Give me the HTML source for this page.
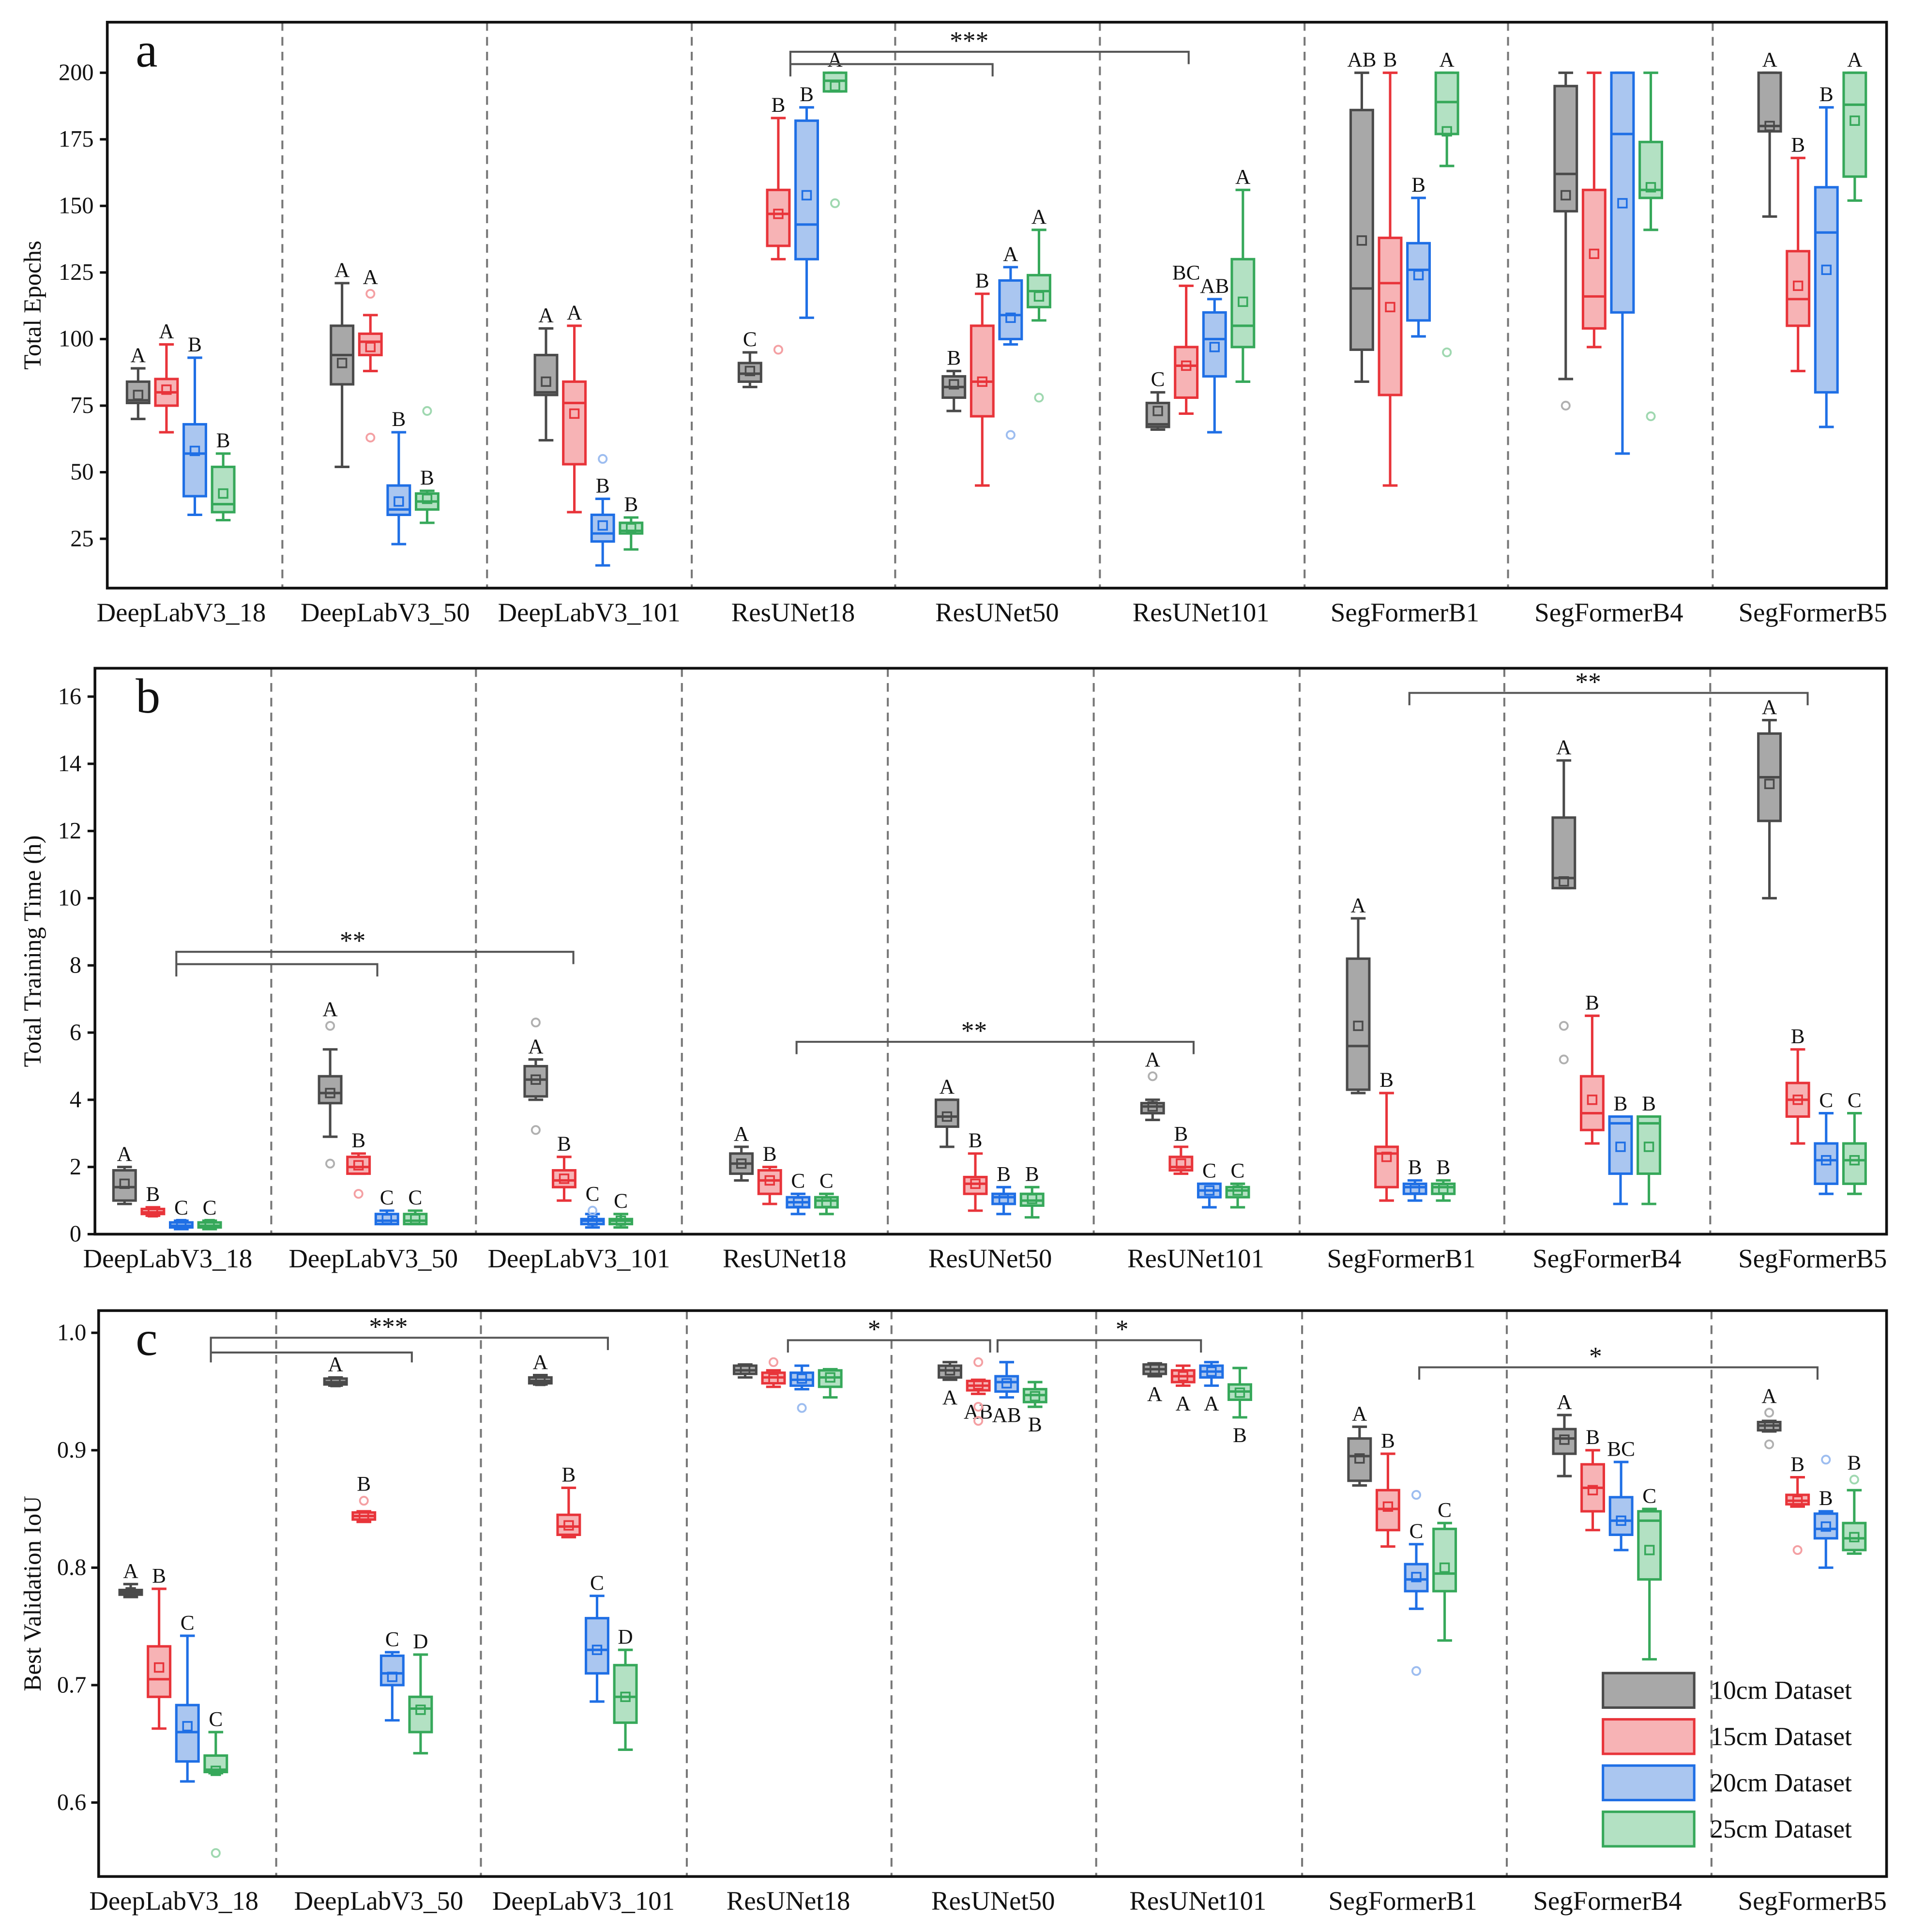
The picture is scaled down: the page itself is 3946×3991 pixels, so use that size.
<!DOCTYPE html>
<html><head><meta charset="utf-8"><style>
html,body{margin:0;padding:0;background:#fff}
svg{display:block}
text{font-family:"Liberation Serif",serif;fill:#111}
</style></head><body>
<svg id="chart" width="3946" height="3991" viewBox="0 0 1549 1567" preserveAspectRatio="none" xmlns="http://www.w3.org/2000/svg">
<rect width="1560" height="1578" fill="#fff"/>
</svg>
<script>
const categories=["DeepLabV3_18","DeepLabV3_50","DeepLabV3_101","ResUNet18","ResUNet50","ResUNet101","SegFormerB1","SegFormerB4","SegFormerB5"];
const seriesNames=["10cm Dataset","15cm Dataset","20cm Dataset","25cm Dataset"];
// Panel a: [lo,q1,med,q3,hi]
const aGray=[[70,76,77,84,89],[52,83,94,105,121],[62,79,80,94,104],[82,84,87,91,95],[73,78,82,86,88],[66,67,68,76,80],[84,96,119,186,200],[85,148,162,195,200],[146,178,180,200,200]];
const aRed=[[65,75,80,85,98],[88,94,99,102,109],[35,53,76,84,105],[130,135,147,156,183],[45,71,84,105,117],[72,78,90,97,120],[45,79,121,138,200],[97,104,116,156,200],[88,105,115,133,168]];
const aBlue=[[34,41,57,68,93],[23,34,36,45,65],[15,24,27,34,40],[108,130,143,182,187],[98,100,109,122,127],[65,86,100,110,115],[101,107,126,136,153],[57,110,177,200,200],[67,80,140,157,187]];
const aGreen=[[32,35,38,52,57],[31,36,39,42,43],[21,27,28,31,33],[193,193,197,200,200],[107,112,118,124,141],[84,97,105,130,156],[165,177,189,200,200],[141,153,156,174,200],[152,161,188,200,200]];
const aMeans=[[79,81,58,42],[91,97,39,40],[84,72,30,29],[88,147,154,195],[83,84,108,116],[73,90,97,114],[137,112,124,178],[154,132,151,157],[180,120,126,182]];
const aOutliers=[[1,1,117],[1,1,63],[1,3,73],[2,2,55],[3,1,96],[3,3,151],[4,2,64],[4,3,78],[6,3,95],[7,0,75],[7,3,71]];
const aLetters=[["A","A","B","B"],["A","A","B","B"],["A","A","B","B"],["C","B","B","A"],["B","B","A","A"],["C","BC","AB","A"],["AB","B","B","A"],["","","",""],["A","B","B","A"]];
const aTicks=[25,50,75,100,125,150,175,200];
// Panel b
const bGray=[[0.9,1.0,1.4,1.9,2.0],[2.9,3.9,4.2,4.7,5.5],[4.0,4.1,4.6,5.0,5.2],[1.6,1.8,2.1,2.4,2.6],[2.6,3.2,3.5,4.0,4.0],[3.4,3.6,3.8,3.9,4.0],[4.2,4.3,5.6,8.2,9.4],[10.3,10.3,10.6,12.4,14.1],[10.0,12.3,13.6,14.9,15.3]];
const bRed=[[0.55,0.6,0.65,0.75,0.8],[1.8,1.8,2.0,2.3,2.4],[1.0,1.4,1.6,1.9,2.3],[0.9,1.2,1.6,1.9,2.0],[0.7,1.2,1.5,1.7,2.4],[1.8,1.9,2.0,2.3,2.6],[1.0,1.4,2.4,2.6,4.2],[2.7,3.1,3.6,4.7,6.5],[2.7,3.5,4.0,4.5,5.5]];
const bBlue=[[0.15,0.2,0.25,0.35,0.4],[0.3,0.3,0.4,0.6,0.7],[0.2,0.3,0.4,0.45,0.6],[0.6,0.8,0.95,1.1,1.2],[0.6,0.9,1.1,1.2,1.4],[0.8,1.1,1.3,1.5,1.5],[1.0,1.2,1.4,1.5,1.6],[0.9,1.8,3.3,3.5,3.5],[1.2,1.5,2.2,2.7,3.6]];
const bGreen=[[0.15,0.2,0.25,0.35,0.4],[0.3,0.3,0.4,0.6,0.7],[0.2,0.3,0.4,0.45,0.6],[0.6,0.8,1.0,1.1,1.2],[0.5,0.85,1.0,1.2,1.4],[0.8,1.1,1.3,1.4,1.5],[1.0,1.2,1.4,1.5,1.6],[0.9,1.8,3.3,3.5,3.5],[1.2,1.5,2.2,2.7,3.6]];
const bMeans=[[1.5,0.65,0.3,0.3],[4.2,2.05,0.45,0.45],[4.6,1.65,0.4,0.4],[2.1,1.6,0.95,0.95],[3.5,1.5,1.05,1.05],[3.8,2.1,1.3,1.3],[6.2,2.3,1.35,1.35],[10.5,4.0,2.6,2.6],[13.4,4.0,2.2,2.2]];
const bOutliers=[[1,0,6.2],[1,0,2.1],[1,1,1.2],[2,0,6.3],[2,0,3.1],[2,2,0.7],[5,0,4.7],[7,0,6.2],[7,0,5.2]];
const bLetters=[["A","B","C","C"],["A","B","C","C"],["A","B","C","C"],["A","B","C","C"],["A","B","B","B"],["A","B","C","C"],["A","B","B","B"],["A","B","B","B"],["A","B","C","C"]];
const bTicks=[0,2,4,6,8,10,12,14,16];
// Panel c
const cGray=[[0.775,0.777,0.779,0.781,0.786],[0.955,0.956,0.958,0.961,0.962],[0.956,0.957,0.959,0.962,0.964],[0.962,0.965,0.968,0.972,0.973],[0.96,0.962,0.968,0.972,0.975],[0.963,0.965,0.969,0.973,0.974],[0.87,0.874,0.895,0.91,0.92],[0.878,0.897,0.91,0.918,0.93],[0.916,0.917,0.921,0.924,0.925]];
const cRed=[[0.663,0.69,0.705,0.733,0.782],[0.839,0.841,0.844,0.847,0.848],[0.826,0.828,0.835,0.845,0.868],[0.954,0.957,0.962,0.966,0.968],[0.948,0.951,0.955,0.959,0.96],[0.955,0.958,0.963,0.968,0.972],[0.818,0.832,0.85,0.866,0.897],[0.832,0.848,0.868,0.888,0.9],[0.852,0.854,0.857,0.862,0.877]];
const cBlue=[[0.618,0.635,0.66,0.683,0.742],[0.67,0.7,0.71,0.725,0.728],[0.686,0.71,0.73,0.757,0.776],[0.952,0.955,0.96,0.966,0.972],[0.945,0.95,0.958,0.963,0.975],[0.955,0.962,0.967,0.972,0.975],[0.765,0.78,0.79,0.803,0.82],[0.815,0.828,0.84,0.86,0.89],[0.8,0.825,0.833,0.846,0.848]];
const cGreen=[[0.625,0.626,0.628,0.64,0.66],[0.642,0.66,0.68,0.69,0.726],[0.645,0.668,0.69,0.717,0.73],[0.945,0.954,0.962,0.968,0.969],[0.937,0.941,0.947,0.952,0.958],[0.928,0.943,0.95,0.956,0.97],[0.738,0.78,0.795,0.833,0.838],[0.722,0.79,0.84,0.848,0.85],[0.812,0.815,0.825,0.838,0.866]];
const cMeans=[[0.779,0.715,0.665,0.627],[0.958,0.844,0.707,0.679],[0.959,0.836,0.73,0.69],[0.969,0.961,0.961,0.962],[0.968,0.956,0.957,0.946],[0.969,0.963,0.967,0.949],[0.893,0.852,0.792,0.80],[0.909,0.866,0.84,0.815],[0.921,0.857,0.835,0.826]];
const cOutliers=[[0,3,0.557],[1,1,0.857],[3,1,0.975],[3,2,0.936],[4,1,0.975],[4,1,0.937],[4,1,0.925],[6,2,0.862],[6,2,0.712],[8,0,0.932],[8,0,0.905],[8,1,0.815],[8,2,0.892],[8,3,0.875]];
const cLetters=[["A","B","C","C"],["A","B","C","D"],["A","B","C","D"],["","","",""],["A","AB","AB","B"],["A","A","A","B"],["A","B","C","C"],["A","B","BC","C"],["A","B","B","B"]];
const cLetterBelow=[4,5];
const cTicks=[0.6,0.7,0.8,0.9,1.0];

const NS="http://www.w3.org/2000/svg";
const svg=document.getElementById("chart");
function mk(tag,attrs,parent){const e=document.createElementNS(NS,tag);for(const k in attrs)e.setAttribute(k,attrs[k]);(parent||svg).appendChild(e);return e;}
const strokeC=["#4a4a4a","#e8343a","#1f6fe5","#36a85a"];
const fillC=["#a8a8a8","#f7b3b5","#aac6f0","#b3e1c3"];
const outC=["#b0b0b0","#f4a0a3","#9dbdf0","#9fd8b0"];
const offsets=[-35,-12,11,34];

const panels=[
 {id:"a",x0:87,x1:1530,y0:18,y1:477,yf:v=>491-v*54/25,c0:147,dc:165.4,ticks:aTicks,fmt:v=>String(v),tickX:76,series:[aGray,aRed,aBlue,aGreen],means:aMeans,outs:aOutliers,letters:aLetters,below:[],label:"Total Epochs",catY:504,seps:[229,395,561,726,892,1058,1223,1389]},
 {id:"b",x0:77,x1:1530,y0:542,y1:1001,yf:v=>1001-v*27.25,c0:136,dc:166.75,ticks:bTicks,fmt:v=>String(v),tickX:66,series:[bGray,bRed,bBlue,bGreen],means:bMeans,outs:bOutliers,letters:bLetters,below:[],label:"Total Training Time (h)",catY:1028,seps:[220,386,553,720,887,1054,1220,1387]},
 {id:"c",x0:80,x1:1530,y0:1063,y1:1522,yf:v=>1081+(1-v)*952.5,c0:141,dc:166.1,ticks:cTicks,fmt:v=>v.toFixed(1),tickX:70,series:[cGray,cRed,cBlue,cGreen],means:cMeans,outs:cOutliers,letters:cLetters,below:cLetterBelow,label:"Best Validation IoU",catY:1549,seps:[224,390,557,723,889,1056,1222,1388]}
];

panels.forEach(p=>{
 const g=mk("g",{});
 
 
 p.seps.forEach(x=>{const l=mk("line",{x1:x,x2:x,y1:p.y0,y2:p.y1,stroke:"#777","stroke-width":1.6,"stroke-dasharray":"7,5"},g);
  });
 p.ticks.forEach(t=>{const y=p.yf(t);
  const tl=mk("line",{x1:p.x0-6,x2:p.x0,y1:y,y2:y,stroke:"#111","stroke-width":2},g);
  
  const tx=mk("text",{x:p.tickX,y:y+6,"text-anchor":"end","font-size":19},g);tx.textContent=p.fmt(t);
  });
 const yl=mk("text",{x:0,y:0,"text-anchor":"middle","font-size":20,transform:`translate(33,${(p.y0+p.y1)/2}) rotate(-90)`},g);yl.textContent=p.label;
 
 const pl=mk("text",{x:110,y:p.y0+36,"font-size":40},g);pl.textContent=p.id;
 
 categories.forEach((c,i)=>{const cx=p.c0+i*p.dc;
  const ct=mk("text",{x:cx,y:p.catY,"text-anchor":"middle","font-size":21.5},g);ct.textContent=c;
  
  p.series.forEach((ser,s)=>{const st=ser[i];const x=cx+offsets[s];const w=18;
   const bg=mk("g",{},g);
   
   const Y=st.map(p.yf);
   mk("line",{x1:x,x2:x,y1:Y[0],y2:Y[4],stroke:strokeC[s],"stroke-width":2},bg);
   mk("line",{x1:x-6,x2:x+6,y1:Y[0],y2:Y[0],stroke:strokeC[s],"stroke-width":2},bg);
   mk("line",{x1:x-6,x2:x+6,y1:Y[4],y2:Y[4],stroke:strokeC[s],"stroke-width":2},bg);
   mk("rect",{x:x-w/2,y:Y[3],width:w,height:Math.max(1,Y[1]-Y[3]),fill:fillC[s],stroke:strokeC[s],"stroke-width":2},bg);
   mk("line",{x1:x-w/2,x2:x+w/2,y1:Y[2],y2:Y[2],stroke:strokeC[s],"stroke-width":2},bg);
   const my=p.yf(p.means[i][s]);
   mk("rect",{x:x-3.5,y:my-3.5,width:7,height:7,fill:"none",stroke:strokeC[s],"stroke-width":1.4},bg);
   const L=p.letters[i][s];
   if(L){const below=p.below.indexOf(i)>=0;
    let top=Y[4];
    p.outs.forEach(o=>{if(o[0]===i&&o[1]===s){const oy=p.yf(o[2]);if(oy<top&&Y[4]-oy<20)top=oy-3;}});
    const lt=mk("text",{x:x,y:below?Y[0]+20:top-5,"text-anchor":"middle","font-size":17},g);lt.textContent=L;
    }
  });
 });
 p.outs.forEach(o=>{const x=p.c0+o[0]*p.dc+offsets[o[1]];
  const oc=mk("circle",{cx:x,cy:p.yf(o[2]),r:3.2,fill:"none",stroke:outC[o[1]],"stroke-width":1.5},g);
  });
 const fr=mk("rect",{x:p.x0,y:p.y0,width:p.x1-p.x0,height:p.y1-p.y0,fill:"none",stroke:"#111","stroke-width":2.2},g);
 
});

function bracket(d,sx,sy,stars){
 const pth=mk("path",{d:d,fill:"none",stroke:"#555","stroke-width":1.6});
 
 const t=mk("text",{x:sx,y:sy,"text-anchor":"middle","font-size":21});t.textContent=stars;
 
}
bracket("M641 62V42H964V52M641 52H805V62",786,40,"***");
bracket("M143 792V772H465V782M143 782H306V792",286,770,"**");
bracket("M646 855V845H968V855",790,843,"**");
bracket("M1143 572V562H1466V572",1288,560,"**");
bracket("M171 1105V1085H493V1095M171 1097H334V1105",315,1083,"***");
bracket("M639 1097V1087H803V1097",709,1085,"*");
bracket("M809 1097V1087H974V1097",910,1085,"*");
bracket("M1151 1119V1109H1474V1119",1294,1107,"*");

const lg=mk("g",{});

seriesNames.forEach((n,s)=>{const y=1357+s*37.5;
 const r=mk("rect",{x:1300,y:y,width:74,height:28,fill:fillC[s],stroke:strokeC[s],"stroke-width":2},lg);
 
 const t=mk("text",{x:1387,y:y+21,"font-size":21},lg);t.textContent=n;
 
});
</script>
</body></html>
